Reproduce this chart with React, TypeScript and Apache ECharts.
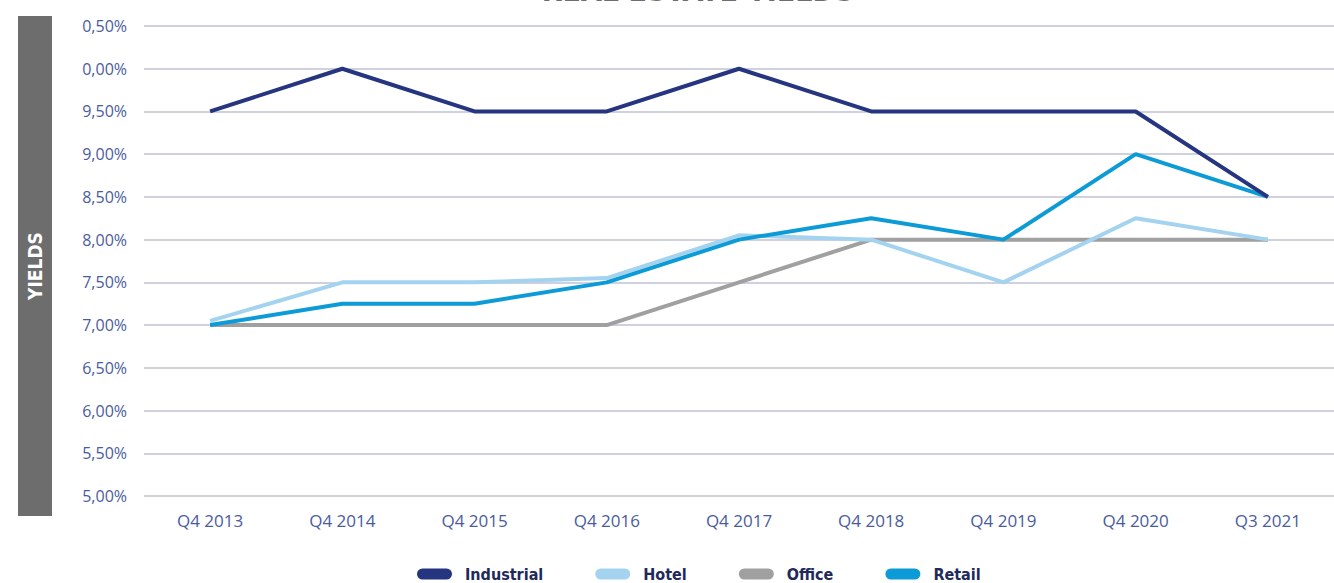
import React, { useEffect, useRef } from "react";
import * as echarts from "echarts";

const categories = ["Q4 2013", "Q4 2014", "Q4 2015", "Q4 2016", "Q4 2017", "Q4 2018", "Q4 2019", "Q4 2020", "Q3 2021"];
const industrial = [9.5, 10.0, 9.5, 9.5, 10.0, 9.5, 9.5, 9.5, 8.5];
const hotel = [7.05, 7.5, 7.5, 7.55, 8.05, 8.0, 7.5, 8.25, 8.0];
const office = [7.0, 7.0, 7.0, 7.0, 7.5, 8.0, 8.0, 8.0, 8.0];
const retail = [7.0, 7.25, 7.25, 7.5, 8.0, 8.25, 8.0, 9.0, 8.5];
const seriesNames = ["Industrial", "Hotel", "Office", "Retail"];
const seriesColors = ["#253580", "#a3d3ef", "#a0a0a0", "#0d9bd8"];

const pill = "path://M5.5,0 H29.5 A5.5,5.5 0 0 1 29.5,11 H5.5 A5.5,5.5 0 0 1 5.5,0 Z";
const condensed = "'DejaVu Sans Condensed', 'DejaVu Sans', sans-serif";

export default function App() {
  const ref = useRef<HTMLDivElement>(null);
  useEffect(() => {
    if (!ref.current) return;
    const chart = echarts.init(ref.current, undefined, { renderer: "svg" });
    const seriesData = [industrial, hotel, office, retail];
    chart.setOption({
      animation: false,
      backgroundColor: "#ffffff",
      grid: { left: 144, top: 26, width: 1206, height: 470 },
      legend: {
        top: 561,
        left: 412,
        itemGap: 52,
        itemWidth: 35,
        itemHeight: 11,
        icon: pill,
        textStyle: {
          color: "#1f2a5a",
          fontWeight: "bold",
          fontSize: 16,
          fontFamily: condensed,
          padding: [0, 0, 0, 8],
        },
        data: seriesNames,
      },
      xAxis: {
        type: "category",
        data: categories,
        boundaryGap: true,
        axisLine: { show: false },
        axisTick: { show: false },
        axisLabel: { color: "#4a5c9e", fontSize: 17, fontFamily: "Open Sans", margin: 16 },
      },
      yAxis: {
        type: "value",
        min: 5,
        max: 10.5,
        interval: 0.5,
        axisLine: { show: false },
        axisTick: { show: false },
        axisLabel: {
          color: "#4a5c9e",
          fontSize: 16,
          fontFamily: "Open Sans",
          margin: 17,
          formatter: (v: number) => {
            const s = v.toFixed(2).replace(".", ",") + "%";
            return v >= 10 ? s.slice(1) : s;
          },
        },
        splitLine: { lineStyle: { color: "#cfd0e0", width: 2 } },
      },
      graphic: [
        { type: "rect", shape: { x: 18, y: 16, width: 34, height: 500 }, style: { fill: "#6d6d6d" } },
        {
          type: "text",
          x: 35,
          y: 266,
          rotation: Math.PI / 2,
          style: {
            text: "YIELDS",
            fill: "#ffffff",
            font: "bold 19px " + condensed,
            textAlign: "center",
            textVerticalAlign: "middle",
          },
        },
        {
          type: "text",
          x: 698,
          y: 5,
          style: {
            text: "REAL ESTATE YIELDS",
            fill: "#6d6d6d",
            font: "bold 30px " + condensed,
            textAlign: "center",
            textVerticalAlign: "bottom",
          },
        },
      ],
      series: seriesNames.map((name, i) => ({
        name,
        type: "line",
        data: seriesData[i],
        symbol: "none",
        z: [4, 2, 1, 3][i],
        lineStyle: { color: seriesColors[i], width: 4 },
        itemStyle: { color: seriesColors[i] },
      })),
    });
    return () => chart.dispose();
  }, []);
  return <div ref={ref} style={{ position: "absolute", left: 0, top: 0, width: 1334, height: 583 }} />;
}
